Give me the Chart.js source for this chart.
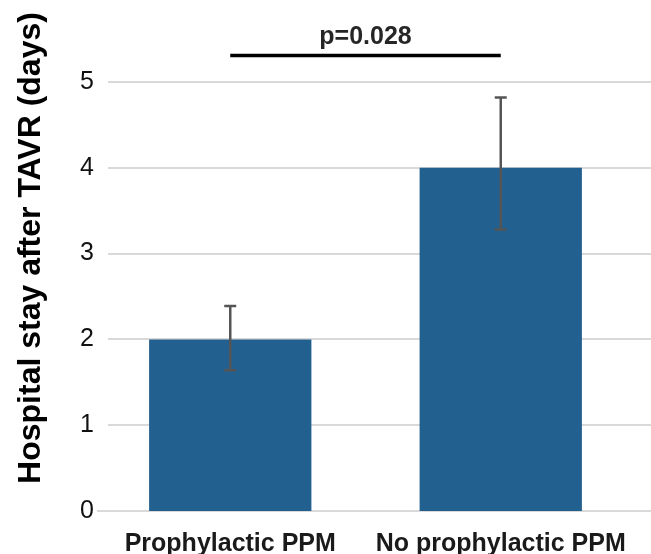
<!DOCTYPE html>
<html lang="en">
<head>
<meta charset="UTF-8">
<title>Hospital stay after TAVR</title>
<script src="https://cdn.jsdelivr.net/npm/chart.js"></script>
<style>
    html, body { margin: 0; padding: 0; background: #fff; }
    #wrap { position: relative; width: 651px; height: 554px; }
</style>
</head>
<body>
<div id="wrap"><canvas id="stayChart"></canvas></div>
<script>
// data
const groups = ['Prophylactic PPM', 'No prophylactic PPM'];
const meanStay = [2.0, 4.0];
const errLow = [1.64, 3.28];
const errHigh = [2.39, 4.82];
const yTicks = [0, 1, 2, 3, 4, 5];
const pLabel = 'p=0.028';
const pBracketLevel = 5.31;   // height of the bracket, in days
const yTitle = 'Hospital stay after TAVR (days)';

const FONT = "'Liberation Sans', Arial, Helvetica, sans-serif";

const extras = {
    id: 'extras',
    beforeDatasetsDraw(chart) {
        const { ctx, chartArea, scales: { y } } = chart;
        ctx.save();
        ctx.strokeStyle = '#d9d9d9';
        ctx.lineWidth = 2;
        y.ticks.forEach(t => {
            const py = Math.round(y.getPixelForValue(t.value));
            const x0 = t.value === 0 ? chartArea.left + 2 : chartArea.left + 13;
            ctx.beginPath();
            ctx.moveTo(x0, py);
            ctx.lineTo(chart.width, py);
            ctx.stroke();
        });
        ctx.restore();
    },
    afterDatasetsDraw(chart) {
        const { ctx, scales: { y } } = chart;
        const bars = chart.getDatasetMeta(0).data;
        ctx.save();

        // error bars
        ctx.strokeStyle = '#555555';
        ctx.lineWidth = 2.5;
        bars.forEach((bar, i) => {
            const yHi = y.getPixelForValue(errHigh[i]);
            const yLo = y.getPixelForValue(errLow[i]);
            ctx.beginPath();
            ctx.moveTo(bar.x, yHi); ctx.lineTo(bar.x, yLo);
            ctx.moveTo(bar.x - 6, yHi); ctx.lineTo(bar.x + 6, yHi);
            ctx.moveTo(bar.x - 6, yLo); ctx.lineTo(bar.x + 6, yLo);
            ctx.stroke();
        });

        // significance bracket
        const by = y.getPixelForValue(pBracketLevel);
        ctx.strokeStyle = '#000';
        ctx.lineWidth = 3.5;
        ctx.beginPath();
        ctx.moveTo(bars[0].x, by);
        ctx.lineTo(bars[1].x, by);
        ctx.stroke();
        ctx.fillStyle = '#262626';
        ctx.font = 'bold 25px ' + FONT;
        ctx.textAlign = 'center';
        ctx.textBaseline = 'alphabetic';
        ctx.fillText(pLabel, (bars[0].x + bars[1].x) / 2, by - 11);

        // y axis title
        ctx.translate(31, 248);
        ctx.rotate(-Math.PI / 2);
        ctx.fillStyle = '#000';
        ctx.font = 'bold 32px ' + FONT;
        ctx.textBaseline = 'middle';
        ctx.fillText(yTitle, 0, 0);
        ctx.restore();
    }
};

const ctx = document.getElementById('stayChart').getContext('2d');
new Chart(ctx, {
    type: 'bar',
    data: {
        labels: groups,
        datasets: [{
            data: meanStay,
            backgroundColor: '#22608f',
            borderWidth: 0,
            categoryPercentage: 1.0,
            barPercentage: 0.6
        }]
    },
    options: {
        responsive: true,
        maintainAspectRatio: false,
        animation: false,
        layout: { padding: { top: 82, right: 15, left: 0, bottom: 0 } },
        plugins: {
            legend: { display: false },
            tooltip: { enabled: false }
        },
        scales: {
            x: {
                grid: { display: false, drawTicks: false },
                border: { display: false },
                ticks: {
                    color: '#1a1a1a',
                    padding: 18,
                    font: { family: FONT, size: 25, weight: 'bold' }
                },
                afterFit: s => { s.height = 43; }
            },
            y: {
                min: 0,
                max: 5,
                afterBuildTicks: s => { s.ticks = yTicks.map(v => ({ value: v })); },
                grid: { display: false, drawTicks: false },
                border: { display: false },
                ticks: {
                    color: '#111',
                    padding: 1,
                    font: { family: FONT, size: 25 }
                },
                afterFit: s => { s.width = 95; }
            }
        }
    },
    plugins: [extras]
});
</script>
</body>
</html>
